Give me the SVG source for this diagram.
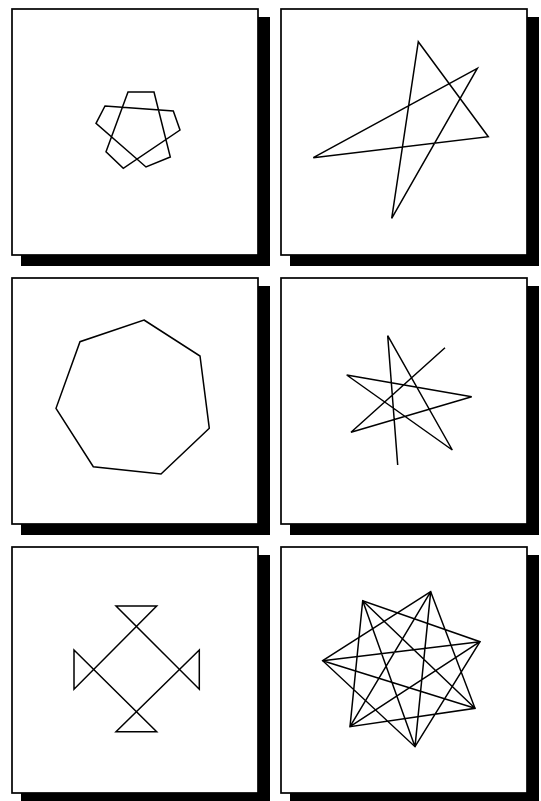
<svg xmlns="http://www.w3.org/2000/svg" width="541" height="801" viewBox="0 0 541 801">
<style>
.shadow{fill:#000}
.frame{fill:#fff;stroke:#000;stroke-width:1.7}
.fig{fill:none;stroke:#000;stroke-width:1.5;stroke-linejoin:miter}
</style>
<rect x="0" y="0" width="541" height="801" fill="#fff"/>
<g id="panel-decagram">
<rect class="shadow" x="21" y="17" width="249" height="249"/>
<rect class="frame" x="12" y="9" width="246" height="246"/>
<polygon class="fig" points="105,106 173.3,111 180,130 123.3,168.3 106,151.7 128,92 154,92 170.3,157 146,167 96,123.3"/>
</g>
<g id="panel-star5">
<rect class="shadow" x="290" y="17" width="249" height="249"/>
<rect class="frame" x="281" y="9" width="246" height="246"/>
<polygon class="fig" points="418.3,41.7 488.3,136.7 313.3,157.7 477.3,68.3 391.7,218.3"/>
</g>
<g id="panel-heptagon">
<rect class="shadow" x="21" y="286" width="249" height="249"/>
<rect class="frame" x="12" y="278" width="246" height="246"/>
<polygon class="fig" points="144,320 200,356 209.3,428.3 161,474 93.3,466.7 56,408.3 80,341.7"/>
</g>
<g id="panel-open-star">
<rect class="shadow" x="290" y="286" width="249" height="249"/>
<rect class="frame" x="281" y="278" width="246" height="246"/>
<polyline class="fig" points="397.7,465 387.7,335.7 452.3,450 346.7,375 471.7,396.7 351,432.3 445,347.7"/>
</g>
<g id="panel-cross">
<rect class="shadow" x="21" y="555" width="249" height="249"/>
<rect class="frame" x="12" y="547" width="246" height="246"/>
<polygon class="fig" points="116,606 156.7,606 74,689.3 74,650 156.7,731.7 116,731.7 199.3,650 199.3,689.3"/>
</g>
<g id="panel-star7">
<rect class="shadow" x="290" y="555" width="249" height="249"/>
<rect class="frame" x="281" y="547" width="246" height="246"/>
<polygon class="fig" points="430.7,591.7 475,708.3 350,726.7 362.7,600.7 480,641.7 415,746.7 322.7,660.7"/>
<polygon class="fig" points="430.7,591.7 415,746.7 362.7,600.7 475,708.3 322.7,660.7 480,641.7 350,726.7"/>
</g>
</svg>
